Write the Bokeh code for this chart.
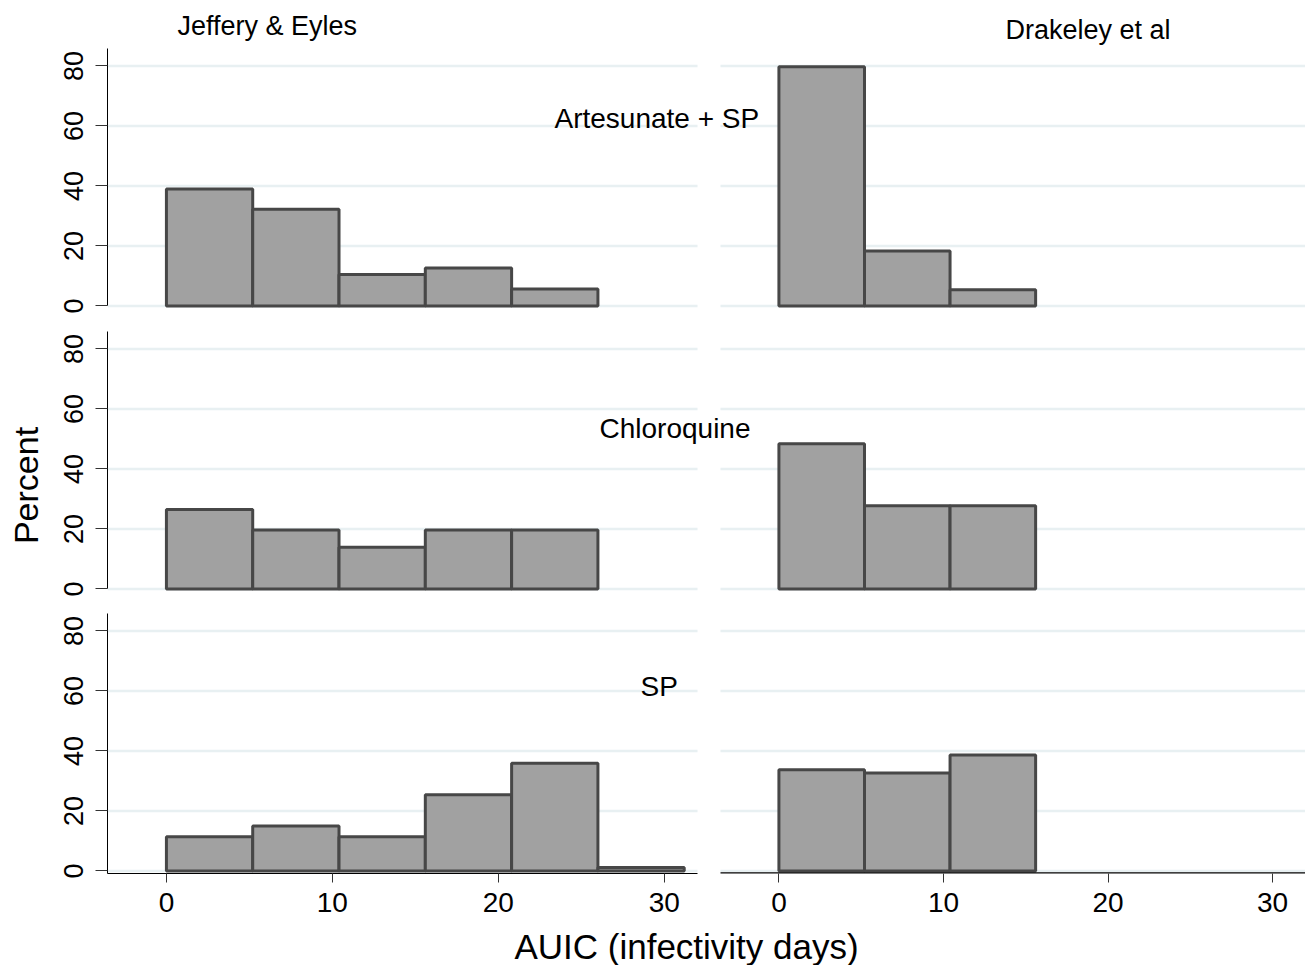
from math import pi

from bokeh.plotting import figure
from bokeh.models import (Range1d, LinearAxis, FixedTicker, Label,
                          CustomJSTickFormatter)
from bokeh.layouts import column, row
from bokeh.embed import file_html
from bokeh.resources import INLINE

# ---------------- data ----------------
studies = ["Jeffery & Eyles", "Drakeley et al"]
treatments = ["Artesunate + SP", "Chloroquine", "SP"]
bin_edges = [0, 5.2, 10.4, 15.6, 20.8, 26.0, 31.2]

je_artesunate_sp = [39.0, 32.2, 10.5, 12.6, 5.6]
dk_artesunate_sp = [79.7, 18.3, 5.4]
je_chloroquine = [26.5, 19.6, 13.9, 19.6, 19.6]
dk_chloroquine = [48.4, 27.7, 27.7]
je_sp = [11.4, 15.0, 11.4, 25.4, 35.9, 1.1]
dk_sp = [33.7, 32.6, 38.6]

x_ticks = [0, 10, 20, 30]
y_ticks = [0, 20, 40, 60, 80]
x_label = "AUIC (infectivity days)"
y_label = "Percent"

rows = [
    (je_artesunate_sp, dk_artesunate_sp),
    (je_chloroquine, dk_chloroquine),
    (je_sp, dk_sp),
]

# ---------------- layout / style constants ----------------
FONT = "Liberation Sans"
PAGE_W, PAGE_H = 1305, 965
STRIP_L = 45            # left strip holding the y label
STRIP_B = 40            # bottom strip holding the x label
FIG_W = PAGE_W - STRIP_L
FRAME_LEFT_PAGE = 107
BORDER_L = FRAME_LEFT_PAGE - STRIP_L
FRAME_W = FIG_W - BORDER_L
LEFT_W = 590
RIGHT_X0 = 613
RIGHT_W = FRAME_W - RIGHT_X0
XLO, XHI = -3.55, 32.0
sA = LEFT_W / (XHI - XLO)
sB = RIGHT_W / (XHI - XLO)
A_RANGE = (XLO, XLO + FRAME_W / sA)
B_RANGE = (XLO - RIGHT_X0 / sB, XHI)

YTOP = 85.8
PANEL_H = 260
PPU = 3.0
YBOT = YTOP - PANEL_H / PPU

# (border_top, extra frame height above the panel, border_bottom)
borders = [(0, 48, 12), (11, 0, 11), (11, 0, 52)]
frame_top_page, zero_page, y_ends = [], [], []
_y = 0
for bt, ext, bb in borders:
    frame_top_page.append(_y + bt)
    y_end = YTOP + ext / PPU
    y_ends.append(y_end)
    zero_page.append(_y + bt + y_end * PPU)
    _y += bt + ext + PANEL_H + bb

BAR_FILL = "#a1a1a1"
BAR_LINE = "#474747"
GRID = "#e8f0f2"
BASELINE_DY = 0.29  # empirical baseline correction (em) for Label rendering
XLABEL_DX = -30     # empirical correction for the centred x-axis title


def ax(px_page):
    return XLO + (px_page - FRAME_LEFT_PAGE) / sA


def ay(row_i, py_page):
    return (zero_page[row_i] - py_page) / PPU


def bare_fig(w, h, xr, yr):
    f = figure(width=w, height=h, x_range=Range1d(*xr), y_range=Range1d(*yr),
               output_backend="svg", toolbar_location=None,
               x_axis_location=None, y_axis_location=None,
               min_border_left=0, min_border_right=0,
               min_border_top=0, min_border_bottom=0)
    f.title.visible = False
    f.outline_line_color = None
    f.xgrid.visible = False
    f.ygrid.visible = False
    f.background_fill_color = "white"
    f.border_fill_color = "white"
    return f


figs = []
for r, (left_vals, right_vals) in enumerate(rows):
    bt, ext, bb = borders[r]
    p = figure(width=FIG_W, height=bt + ext + PANEL_H + bb,
               x_range=Range1d(*A_RANGE), y_range=Range1d(YBOT, y_ends[r]),
               output_backend="svg", toolbar_location=None,
               x_axis_location=None,
               min_border_left=BORDER_L, min_border_right=0,
               min_border_top=bt, min_border_bottom=bb)
    p.title.visible = False
    p.extra_x_ranges = {"right": Range1d(*B_RANGE)}
    p.outline_line_color = None
    p.background_fill_color = "white"
    p.border_fill_color = "white"
    p.xgrid.visible = False
    p.ygrid.visible = False

    # gridlines per panel
    for rng in ("default", "right"):
        p.segment(x0=[XLO] * len(y_ticks), x1=[XHI] * len(y_ticks),
                  y0=y_ticks, y1=y_ticks, line_color=GRID, line_width=2.5,
                  x_range_name=rng)

    # bars
    for vals, rng in ((left_vals, "default"), (right_vals, "right")):
        n = len(vals)
        p.quad(left=bin_edges[:n], right=bin_edges[1:n + 1], bottom=0, top=vals,
               fill_color=BAR_FILL, line_color=BAR_LINE, line_width=3,
               x_range_name=rng)

    # y axis
    ya = p.yaxis[0]
    ya.ticker = FixedTicker(ticks=y_ticks)
    ya.major_label_orientation = "vertical"
    ya.major_tick_out = 12
    ya.major_tick_in = 0
    ya.minor_tick_out = 0
    ya.minor_tick_in = 0
    ya.major_label_standoff = 12
    ya.major_label_text_font = FONT
    ya.major_label_text_font_size = "27px"
    ya.major_label_text_color = "black"
    ya.axis_line_color = "black"
    ya.major_tick_line_color = "#333333"
    if r < 2:
        ya.bounds = (0, YTOP)
    else:
        ya.bounds = (YBOT, YTOP)

    figs.append(p)

# row labels (left edge, baseline in page pixels of the reference)
label_specs = [(0, treatments[0], 554, 126), (1, treatments[1], 599, 436),
               (2, treatments[2], 640, 694)]
for r, txt, px, py in label_specs:
    figs[r].add_layout(Label(x=ax(px), y=ay(r, py - BASELINE_DY * 28), text=txt,
                             text_align="left", text_baseline="alphabetic",
                             text_font=FONT, text_font_size="28px",
                             text_color="black"))

# column titles (inside the extended top frame of row 1)
for txt, px, py in ((studies[0], 177, 33), (studies[1], 1005, 37)):
    figs[0].add_layout(Label(x=ax(px), y=ay(0, py - BASELINE_DY * 27), text=txt,
                             text_align="left", text_baseline="alphabetic",
                             text_font=FONT, text_font_size="27px",
                             text_color="black"))

# bottom x axis covering both panels
p3 = figs[2]
right_ticks_A = [XLO + (RIGHT_X0 + (v - XLO) * sB) / sA for v in x_ticks]
fmt = CustomJSTickFormatter(args=dict(split=XHI + 1.0, a0=XLO, sa=sA, sb=sB, r0=RIGHT_X0),
                            code="""
if (tick <= split) { return Math.round(tick).toString(); }
const px = (tick - a0) * sa;
return Math.round((px - r0) / sb + a0).toString();
""")
xa = LinearAxis(ticker=FixedTicker(ticks=list(x_ticks) + right_ticks_A), formatter=fmt)
xa.bounds = (XLO, XHI)
xa.major_tick_out = 9
xa.major_tick_in = 0
xa.minor_tick_out = 0
xa.minor_tick_in = 0
xa.major_label_standoff = 10
xa.major_label_text_font = FONT
xa.major_label_text_font_size = "28px"
xa.major_label_text_color = "black"
xa.axis_line_color = "black"
xa.major_tick_line_color = "#333333"
p3.add_layout(xa, "below")
# axis line of the right-hand panel (the shared axis line stops at the left panel)
p3.segment(x0=[XLO], x1=[XHI], y0=[YBOT], y1=[YBOT],
           line_color="black", line_width=2.5, x_range_name="right")

# left strip with the y-axis title (page coordinates)
left_strip = bare_fig(STRIP_L, PAGE_H, (0, STRIP_L), (PAGE_H, 0))
left_strip.add_layout(Label(x=35 - BASELINE_DY * 34, y=485, text=y_label, angle=pi / 2,
                            text_align="center", text_baseline="alphabetic",
                            text_font=FONT, text_font_size="34px",
                            text_color="black"))

# bottom strip with the x-axis title (page coordinates)
bottom_strip = bare_fig(FIG_W, STRIP_B, (STRIP_L, PAGE_W), (PAGE_H, PAGE_H - STRIP_B))
bottom_strip.add_layout(Label(x=684 + XLABEL_DX, y=956 - BASELINE_DY * 35, text=x_label,
                              text_align="center", text_baseline="alphabetic",
                              text_font=FONT, text_font_size="35px",
                              text_color="black"))

layout = row(left_strip, column(*figs, bottom_strip))
open("out.html", "w").write(file_html(layout, INLINE))
